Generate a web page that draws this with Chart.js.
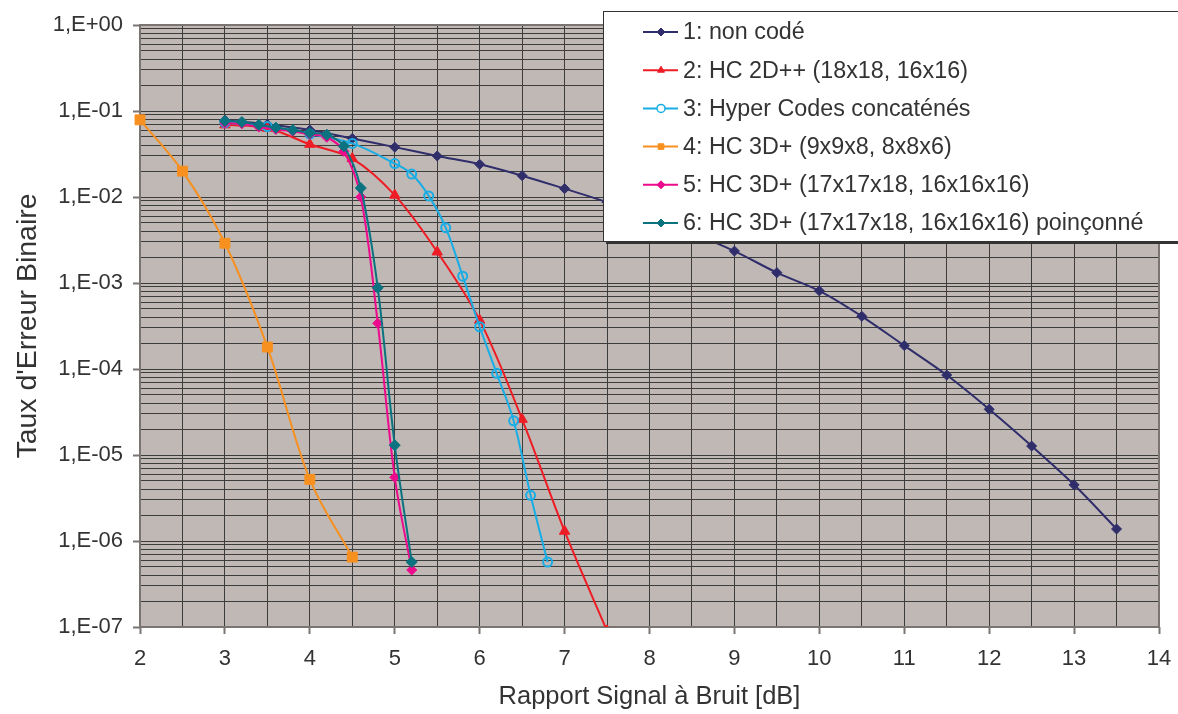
<!DOCTYPE html>
<html>
<head>
<meta charset="utf-8">
<script src="https://cdn.jsdelivr.net/npm/chart.js@4/dist/chart.umd.min.js"></script>
<style>
  body { margin: 0; background: #fff; }
  #chart { display: block; }
</style>
</head>
<body>
<canvas id="chart" width="1178" height="714"></canvas>
<script>
// series labels
const seriesNames = [
  "1: non codé",
  "2: HC 2D++ (18x18, 16x16)",
  "3: Hyper Codes concaténés",
  "4: HC 3D+ (9x9x8, 8x8x6)",
  "5: HC 3D+ (17x17x18, 16x16x16)",
  "6: HC 3D+ (17x17x18, 16x16x16) poinçonné"
];

// SNR values (dB)
const snr1 = [3, 3.5, 4, 4.5, 5, 5.5, 6, 6.5, 7, 7.5, 8, 8.5, 9, 9.5, 10, 10.5, 11, 11.5, 12, 12.5, 13, 13.5];
const snr2 = [3, 3.5, 4, 4.5, 5, 5.5, 6, 6.5, 7, 7.5];
const snr3 = [3, 3.5, 4, 4.5, 5, 5.2, 5.4, 5.6, 5.8, 6, 6.2, 6.4, 6.6, 6.8];
const snr4 = [2, 2.5, 3, 3.5, 4, 4.5];
const snr5 = [3, 3.2, 3.4, 3.6, 3.8, 4, 4.2, 4.4, 4.6, 4.8, 5, 5.2];
const snr6 = [3, 3.2, 3.4, 3.6, 3.8, 4, 4.2, 4.4, 4.6, 4.8, 5, 5.2];

// bit error rates
const ber1 = [7.8e-2, 7.0e-2, 6.0e-2, 4.8e-2, 3.8e-2, 3.0e-2, 2.4e-2, 1.77e-2, 1.25e-2, 8.7e-3, 5.8e-3, 3.8e-3,
  2.35e-3, 1.32e-3, 8.1e-4, 4.1e-4, 1.87e-4, 8.5e-5, 3.4e-5, 1.27e-5, 4.5e-6, 1.38e-6];
const ber2 = [6.9e-2, 6.3e-2, 4.1e-2, 2.8e-2, 1.05e-2, 2.3e-3, 3.7e-4, 2.6e-5, 1.3e-6, 9e-8];
const ber3 = [7.3e-2, 6.6e-2, 5.4e-2, 4.2e-2, 2.45e-2, 1.85e-2, 1.03e-2, 4.4e-3, 1.2e-3, 3.1e-4, 8.9e-5, 2.5e-5, 3.4e-6, 5.7e-7];
const ber4 = [7.9e-2, 2.0e-2, 2.9e-3, 1.8e-4, 5.2e-6, 6.5e-7];
const ber5 = [7.2e-2, 7.1e-2, 6.5e-2, 6.1e-2, 5.8e-2, 5.35e-2, 4.95e-2, 3.4e-2, 1.0e-2, 3.4e-4, 5.5e-6, 4.6e-7];
const ber6 = [7.65e-2, 7.45e-2, 6.9e-2, 6.4e-2, 6.0e-2, 5.55e-2, 5.3e-2, 3.9e-2, 1.27e-2, 8.8e-4, 1.3e-5, 5.7e-7];

// axis ticks
const xMin = 2, xMax = 14;
const yExpMin = -7, yExpMax = 0;

const colors = ["#2f2e6b", "#ee1c25", "#19ade6", "#f7901e", "#ec0b8c", "#0b7380"];
const styles = ["rectRot", "triangle", "circle", "rect", "rectRot", "rectRot"];
const radii = [5, 6, 4.5, 7, 5, 5.5];

const font = "'Liberation Sans', Arial, sans-serif";
const textColor = "#333";
const gridColor = "#3c3c3c";
const plotBg = "#c0b8b5";

function pts(xs, ys) {
  return xs.map((x, i) => ({ x: x, y: ys[i] }));
}

const allX = [snr1, snr2, snr3, snr4, snr5, snr6];
const allY = [ber1, ber2, ber3, ber4, ber5, ber6];

const datasets = seriesNames.map((name, i) => ({
  label: name,
  data: pts(allX[i], allY[i]),
  borderColor: colors[i],
  backgroundColor: colors[i],
  borderWidth: 2,
  pointStyle: styles[i],
  pointRadius: radii[i],
  pointBorderWidth: i === 2 ? 2 : 1,
  pointBackgroundColor: i === 2 ? "rgba(0,0,0,0)" : colors[i],
  pointBorderColor: colors[i],
  tension: 0.35,
  clip: i === 3 ? false : undefined,
  order: 6 - i
}));

function yLabel(v) {
  const e = Math.round(Math.log10(v));
  if (Math.abs(v / Math.pow(10, e) - 1) > 1e-6) return "";
  return "1,E" + (e < 0 ? "-" : "+") + String(Math.abs(e)).padStart(2, "0");
}

function isDecade(v) {
  const e = Math.round(Math.log10(v));
  return Math.abs(v / Math.pow(10, e) - 1) < 1e-6;
}

const plotFrame = {
  id: "plotFrame",
  beforeDraw(chart) {
    const a = chart.chartArea, ctx = chart.ctx;
    ctx.save();
    ctx.fillStyle = plotBg;
    ctx.fillRect(a.left, a.top, a.right - a.left, a.bottom - a.top);
    ctx.restore();
  },
  beforeDatasetsDraw(chart) {
    const a = chart.chartArea, ctx = chart.ctx;
    ctx.save();
    ctx.strokeStyle = "#7a7472";
    ctx.lineWidth = 2;
    ctx.strokeRect(a.left, a.top, a.right - a.left, a.bottom - a.top);
    ctx.restore();
  }
};

// legend box drawn over the plot, like the original
const boxLegend = {
  id: "boxLegend",
  afterDraw(chart) {
    const ctx = chart.ctx;
    const bx = 603, by = 11, bw = 580, bh = 230;
    ctx.save();
    ctx.fillStyle = "#333";
    ctx.fillRect(bx + 3, by + 3, bw, bh);
    ctx.fillStyle = "#fff";
    ctx.fillRect(bx, by, bw, bh);
    ctx.strokeStyle = "#333";
    ctx.lineWidth = 1;
    ctx.strokeRect(bx + 0.5, by + 0.5, bw, bh);

    ctx.font = "23.3px " + font;
    ctx.textBaseline = "middle";
    ctx.textAlign = "left";
    chart.data.datasets.forEach((ds, i) => {
      const y = 32 + i * 38.2;
      ctx.strokeStyle = ds.borderColor;
      ctx.lineWidth = 2;
      ctx.beginPath();
      ctx.moveTo(643, y);
      ctx.lineTo(678, y);
      ctx.stroke();
      ctx.fillStyle = i === 2 ? "#fff" : ds.borderColor;
      ctx.lineWidth = i === 2 ? 1.5 : 1;
      if (Chart.helpers && Chart.helpers.drawPoint) {
        Chart.helpers.drawPoint(ctx, { pointStyle: ds.pointStyle, radius: 4, rotation: 0, borderWidth: ctx.lineWidth }, 661, y);
      }
      ctx.fillStyle = textColor;
      ctx.fillText(ds.label, 683, y + 1);
    });
    ctx.restore();
  }
};

new Chart(document.getElementById("chart"), {
  type: "line",
  data: { datasets: datasets },
  plugins: [plotFrame, boxLegend],
  options: {
    responsive: false,
    animation: false,
    devicePixelRatio: 1,
    layout: { padding: { top: 25, right: 19, left: 0, bottom: 0 } },
    plugins: {
      legend: { display: false },
      tooltip: { enabled: false }
    },
    scales: {
      x: {
        type: "linear",
        min: xMin,
        max: xMax,
        afterFit(s) { s.height = 87; s.paddingLeft = 0; s.paddingRight = 0; },
        ticks: {
          stepSize: 0.5,
          autoSkip: false,
          maxRotation: 0,
          padding: 12,
          color: textColor,
          font: { family: font, size: 22 },
          callback: v => Number.isInteger(v) ? String(v) : ""
        },
        grid: {
          color: gridColor,
          lineWidth: 1,
          tickLength: 7,
          tickColor: ctx => (ctx.tick && Number.isInteger(ctx.tick.value)) ? "#7a7472" : "rgba(0,0,0,0)",
          tickWidth: 2
        },
        border: { display: false },
        title: {
          display: true,
          text: "Rapport Signal à Bruit [dB]",
          color: textColor,
          font: { family: font, size: 25.5 },
          padding: { top: 2, bottom: 2 }
        }
      },
      y: {
        type: "logarithmic",
        min: Math.pow(10, yExpMin),
        max: Math.pow(10, yExpMax),
        afterFit(s) { s.width = 140; s.paddingTop = 0; s.paddingBottom = 0; },
        afterBuildTicks(s) {
          const t = [];
          for (let e = yExpMin; e < yExpMax; e++) {
            for (let m = 1; m <= 9; m++) t.push({ value: m * Math.pow(10, e) });
          }
          t.push({ value: Math.pow(10, yExpMax) });
          s.ticks = t;
        },
        ticks: {
          autoSkip: false,
          padding: 10,
          color: textColor,
          font: { family: font, size: 22 },
          callback: v => yLabel(v)
        },
        grid: {
          color: gridColor,
          lineWidth: 1,
          tickLength: 7,
          tickColor: ctx => (ctx.tick && isDecade(ctx.tick.value)) ? "#7a7472" : "rgba(0,0,0,0)",
          tickWidth: 2
        },
        border: { display: false },
        title: {
          display: true,
          text: "Taux d'Erreur Binaire",
          color: textColor,
          font: { family: font, size: 28.5 },
          padding: { top: 11, bottom: 0 }
        }
      }
    }
  }
});
</script>
</body>
</html>
